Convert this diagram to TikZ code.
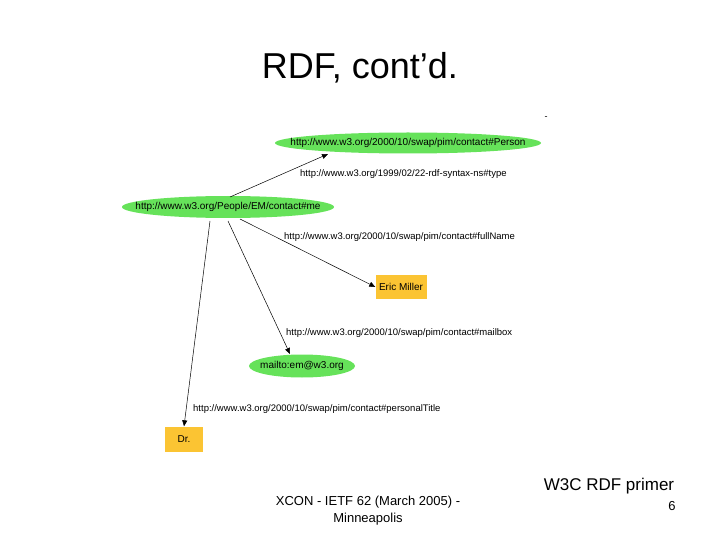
\documentclass[tikz,border=0pt]{standalone}
\usepackage{fontspec}
\setmainfont{Liberation Sans}
\usetikzlibrary{arrows.meta}
\begin{document}
\begin{tikzpicture}[x=1pt,y=-1pt,
  txt/.style={inner sep=0pt,font=\fontsize{10}{12}\selectfont},
  lit/.style={rectangle,fill=yfill,inner sep=0pt,font=\fontsize{10}{12}\selectfont},
  lab/.style={anchor=west,inner sep=0pt,font=\fontsize{9.5}{11}\selectfont},
  edge/.style={draw=black,line width=0.5pt,-{Triangle[length=6pt,width=5pt]}}]
\definecolor{gfill}{RGB}{102,226,90}
\definecolor{yfill}{RGB}{251,196,51}
\useasboundingbox (0,0) rectangle (720,540);
\node[font=\fontsize{36}{40}\selectfont] (title) at (360,68) {RDF, cont’d.};
\fill[gfill] (408,143) ellipse [x radius=133, y radius=10.5];
\fill[gfill] (228,207) ellipse [x radius=106, y radius=11];
\fill[gfill] (302,366) ellipse [x radius=53, y radius=11.5];
\node[txt] (person) at (408,143) {http://www.w3.org/2000/10/swap/pim/contact\#Person};
\node[txt] (me) at (228,207) {http://www.w3.org/People/EM/contact\#me};
\node[lit,minimum width=51pt,minimum height=24pt] (eric) at (401,287) {Eric Miller};
\node[txt] (mail) at (302,366) {mailto:em@w3.org};
\node[lit,minimum width=38pt,minimum height=25pt] (dr) at (184,439) {Dr.};
\coordinate (m1) at (230,197);
\coordinate (m2) at (240,219);
\coordinate (m3) at (228,221);
\coordinate (m4) at (210,221);
\coordinate (pt) at (328,154);
\coordinate (mt) at (290,354);
\draw[edge] (m1) -- (pt);
\draw[edge] (m2) -- (eric.west);
\draw[edge] (m3) -- (mt);
\draw[edge] (m4) -- (dr.north);
\node[lab] (l1) at (300,174) {http://www.w3.org/1999/02/22-rdf-syntax-ns\#type};
\node[lab] (l2) at (284,237) {http://www.w3.org/2000/10/swap/pim/contact\#fullName};
\node[lab] (l3) at (286,333) {http://www.w3.org/2000/10/swap/pim/contact\#mailbox};
\node[lab] (l4) at (193,409) {http://www.w3.org/2000/10/swap/pim/contact\#personalTitle};
\node[inner sep=0pt,font=\fontsize{9}{10}\selectfont] (dash) at (546,118) {-};
\node[font=\fontsize{17}{20}\selectfont,inner sep=0pt] (w3c) at (609,486) {W3C RDF primer};
\node[font=\fontsize{13}{15}\selectfont,inner sep=0pt] (num) at (672,506) {6};
\node[font=\fontsize{13}{17}\selectfont,align=center,inner sep=0pt] (foot) at (368,511) {XCON - IETF 62 (March 2005) -\\Minneapolis};
\end{tikzpicture}
\end{document}
